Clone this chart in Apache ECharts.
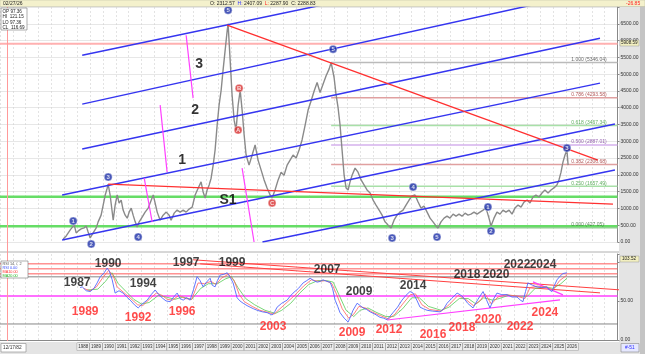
<!DOCTYPE html>
<html>
<head>
<meta charset="utf-8">
<script src="https://cdn.jsdelivr.net/npm/echarts@6/dist/echarts.min.js"></script>
<style>
html, body { margin: 0; padding: 0; background: #fff; }
#chart { width: 645px; height: 354px; }
</style>
</head>
<body>
<div id="chart"></div>
<script>
// price (decimal years)
var priceYears = [1986.91,1987.15,1987.46,1987.77,1987.92,1988.08,1988.31,1988.54,1988.70,1988.85,1989.01,1989.24,1989.48,1989.63,1989.86,
  1990.02,1990.18,1990.33,1990.41,1990.56,1990.72,1990.80,1990.95,1991.11,1991.26,1991.42,1991.57,1991.73,1991.89,1992.04,1992.20,1992.35,1992.51,1992.66,1992.82,
  1993.05,1993.28,1993.52,1993.67,1993.91,1994.06,1994.22,1994.45,1994.68,1994.92,1995.15,1995.30,1995.54,1995.77,1996.00,1996.24,1996.47,1996.70,1996.94,
  1997.17,1997.40,1997.63,1997.79,1997.95,1998.10,1998.26,1998.41,1998.57,1998.72,1998.88,1999.03,1999.19,1999.34,1999.50,1999.66,1999.73,1999.89,
  2000.04,2000.20,2000.35,2000.51,2000.67,2000.82,2000.98,2001.13,2001.36,2001.60,2001.83,2002.06,2002.30,2002.53,2002.76,2003.00,2003.15,2003.38,2003.62,2003.85,
  2004.08,2004.32,2004.55,2004.78,2005.02,2005.25,2005.48,2005.72,2005.95,2006.18,2006.42,2006.65,2006.88,2007.11,2007.35,2007.58,2007.74,2007.97,
  2008.12,2008.28,2008.43,2008.59,2008.75,2008.90,2009.06,2009.21,2009.37,2009.60,2009.83,2010.07,2010.30,2010.53,2010.77,2011.00,2011.23,2011.47,2011.70,2011.93,
  2012.16,2012.40,2012.63,2012.86,2013.10,2013.33,2013.56,2013.80,2014.03,2014.26,2014.50,2014.73,2014.96,2015.20,2015.43,2015.66,2015.89,
  2016.05,2016.28,2016.52,2016.75,2016.98,2017.22,2017.45,2017.68,2017.91,2018.15,2018.38,2018.61,2018.85,2019.08,2019.31,2019.55,2019.78,
  2020.01,2020.17,2020.40,2020.63,2020.87,2021.10,2021.33,2021.57,2021.80,2022.03,2022.27,2022.50,2022.73,2022.97,2023.20,2023.43,2023.66,2023.90,
  2024.13,2024.36,2024.60,2024.83,2025.06,2025.29,2025.45,2025.61,2025.76,2025.92,2026.07,2026.16];
var priceValues = [90,180,360,510,270,330,390,420,480,300,120,270,420,600,800,
  1100,1400,1600,1720,1400,900,650,1100,1400,1160,1250,950,800,710,890,1010,800,600,450,600,
  740,890,1010,1160,1400,1160,890,650,800,890,800,650,860,950,890,950,890,980,1040,
  1400,1600,1790,1490,1310,1550,1700,1900,2290,2740,3480,4080,4520,5120,5710,6300,6500,5420,
  4380,3630,3330,4080,4520,3930,3180,2590,2290,2590,2890,2440,2140,1850,1610,1400,1310,1550,1850,2080,
  1990,2290,2440,2590,2500,2740,3040,3480,3930,4200,4500,4750,4450,4700,4950,5150,5346,4900,
  4400,4000,3500,2740,1990,1610,1550,1790,1990,2200,2080,1850,1700,1550,1460,1250,1100,950,800,600,
  510,420,650,800,890,950,1100,1250,1370,1400,1190,1010,1070,890,710,600,480,
  420,600,710,770,710,830,770,830,770,860,800,830,890,830,890,950,1010,
  710,480,710,890,830,950,890,950,830,1010,1100,1040,1190,1250,1160,1340,1400,1340,
  1460,1550,1460,1550,1610,1700,1850,2080,2380,2590,2740,2290];

// RSI 14 and its averages
var rsiYears = [1988.23,1988.39,1988.70,1989.01,1989.30,1989.55,1989.79,1990.10,1990.33,1990.50,1990.72,1990.95,1991.25,1991.57,1991.85,
  1992.12,1992.45,1992.74,1993.05,1993.44,1993.75,1994.06,1994.35,1994.60,1994.90,1995.23,1995.50,1995.77,1996.00,1996.24,1996.50,1996.78,
  1997.05,1997.32,1997.55,1997.79,1998.05,1998.33,1998.50,1998.72,1998.90,1999.11,1999.40,1999.66,1999.90,2000.12,2000.43,2000.65,2000.90,
  2001.20,2001.44,2001.70,2001.99,2002.40,2002.76,2003.15,2003.35,2003.54,2003.90,2004.32,2004.55,2004.78,2005.20,2005.56,2005.85,
  2006.10,2006.40,2006.65,2006.90,2007.11,2007.40,2007.66,2007.85,2008.05,2008.25,2008.43,2008.75,2009.06,2009.25,2009.44,2009.76,
  2010.00,2010.22,2010.50,2010.77,2011.15,2011.54,2011.80,2012.09,2012.30,2012.55,2012.90,2013.25,2013.55,2013.87,2014.11,2014.40,2014.65,2014.90,
  2015.20,2015.60,2016.21,2016.50,2016.75,2017.10,2017.53,2017.75,2017.99,2018.35,2018.77,2019.15,2019.55,2019.80,2020.09,2020.35,2020.63,
  2021.00,2021.41,2021.80,2022.19,2022.45,2022.65,2022.85,2023.04,2023.40,2023.74,2024.10,2024.52,2024.70,2024.91,2025.10,2025.30,2025.55,2025.76,2026.07];
var rsiValues = [67,68,63,62,66,73,81,86,92,88,77,60,63,60,55,
  51,45,41,46,51,58,64,58,54,50,49,55,60,53,51,54,51,
  65,81,76,68,74,79,70,68,76,83,84,86,80,73,54,50,47,
  44,42,40,38,36,35,32,36,42,47,51,56,60,66,73,76,
  79,76,74,75,77,75,74,66,51,43,35,28,23,30,38,47,
  44,41,39,36,33,29,28,26,30,35,42,51,57,62,60,51,42,40,
  38,37,36,40,47,53,60,58,55,47,41,52,62,52,41,52,60,
  58,58,55,55,51,49,62,73,70,68,67,68,64,62,70,77,82,85,86];
var ma10Years = [1988.50,1989.00,1989.50,1990.00,1990.45,1990.80,1991.10,1991.60,1992.10,1992.70,1993.10,1993.60,1994.15,1994.60,1995.00,1995.40,1995.90,
  1996.40,1996.90,1997.40,1997.90,1998.40,1998.80,1999.20,1999.75,2000.20,2000.60,2001.00,2001.60,2002.20,2002.90,2003.30,2003.70,2004.30,2004.90,
  2005.60,2006.20,2006.80,2007.30,2007.80,2008.20,2008.60,2009.10,2009.50,2009.90,2010.40,2010.90,2011.60,2012.20,2012.70,2013.30,2013.90,2014.30,
  2014.80,2015.40,2016.30,2016.90,2017.60,2018.20,2018.80,2019.30,2019.70,2020.20,2020.70,2021.40,2022.20,2022.80,2023.20,2023.80,2024.50,2025.00,2025.50,2026.07];
var ma10Values = [66,63,68,80,89,82,68,61,54,45,44,52,60,57,52,51,57,
  53,52,73,72,75,71,79,84,76,58,49,43,38,35,33,39,48,57,
  69,77,75,76,72,57,40,28,33,43,41,36,31,27,33,46,58,59,
  45,39,37,45,57,52,44,50,59,46,55,58,56,53,67,69,67,64,76,83];
var ma20Years = [1988.80,1989.60,1990.20,1990.70,1991.20,1991.80,1992.40,1993.00,1993.60,1994.30,1994.90,1995.60,1996.20,1996.90,1997.60,1998.20,
  1998.90,1999.50,2000.00,2000.50,2001.10,2001.80,2002.60,2003.40,2003.90,2004.60,2005.30,2006.00,2006.70,2007.40,2007.90,2008.40,2008.90,
  2009.50,2010.00,2010.60,2011.30,2012.00,2012.60,2013.30,2014.00,2014.60,2015.30,2016.30,2016.90,2017.70,2018.40,2019.00,2019.60,2020.30,
  2020.80,2021.50,2022.40,2023.00,2023.60,2024.40,2025.00,2025.60,2026.07];
var ma20Values = [64,65,75,86,72,62,52,46,48,57,55,52,55,52,66,72,
  72,78,81,67,53,45,38,34,38,47,60,71,76,76,74,56,38,
  30,38,41,35,30,30,40,54,54,43,38,42,53,53,46,54,51,
  53,57,56,56,66,68,66,72,79];

var yearTicks = [];
for (var yr = 1988; yr <= 2026; yr++) yearTicks.push(yr);

// fibonacci levels
var fibRatios = ['1.000', '0.786', '0.618', '0.500', '0.382', '0.250', '0.000'];
var fibValues = [5346.04, 4293.58, 3467.34, 2887.01, 2306.68, 1657.49, 427.05];

// drawn trend lines, [year, price]
var blueChannels = [
  [[1988.39, 5565], [2008.82, 7202]],
  [[1988.39, 4107], [2025.06, 7202]],
  [[1988.39, 2768], [2028.64, 6071]],
  [[1986.83, 1399], [2028.64, 4732]],
  [[1986.83, 60], [2029.80, 3512]],
  [[2002.40, 0], [2029.80, 2143]]
];
var redLines = [
  [[1999.66, 6458], [2028.48, 2440]],
  [[1990.41, 1726], [2029.65, 1131]]
];
var magentaLines = [
  [[1996.47, 6160], [1997.01, 4285]],
  [[1994.45, 4077], [1994.99, 2083]],
  [[1993.21, 1905], [1993.83, 595]],
  [[2000.82, 2202], [2001.75, 0]]
];
var greenLevels = [1350, 470];
var lastMarker = 5908.59;

// RSI pane lines, [year, value]
var rsiRedLevels = [97.4, 91, 84.6];
var rsiGrayLevels = [80.8, 20.5];
var rsiMagentaLevel = 56.4;
var rsiRedDiagonals = [
  [[1997.01, 102.6], [2030.19, 64.1]],
  [[1997.56, 97.4], [2028.64, 60.3]]
];
var rsiMagentaLines = [
  [[2012.09, 25.6], [2025.53, 51.3]],
  [[2023.43, 74.4], [2025.76, 57.7]]
];

// wave counts [year, price, label]
var waveBlue = [[1987.69,625,'1'],[1989.09,-60,'2'],[1990.41,1934,'3'],[1992.74,149,'4'],[1999.73,6904,'5'],
  [2007.89,5744,'5'],[2012.48,119,'3'],[2014.11,1637,'4'],[2015.97,149,'5'],[2019.93,1042,'1'],[2020.17,327,'2'],[2026.07,2797,'3']];
var waveRed = [[2000.51,3333,'A'],[2000.59,4583,'B'],[2003.15,1161,'C']];
var bigLabels = [[1997.48,5297,'3'],[1997.17,3928,'2'],[1996.16,2440,'1'],[1999.73,1250,'S1']];

// year notes in the RSI pane
var peakNotes = [[1988.0,73,'1987'],[1990.41,97.4,'1990'],[1993.13,71.8,'1994'],[1996.47,98.7,'1997'],[2000.04,98.7,'1999'],
  [2007.43,89.7,'2007'],[2009.91,61.5,'2009'],[2014.11,69.2,'2014'],[2018.30,83.3,'2018'],[2020.56,83.3,'2020'],[2022.19,96.2,'2022'],[2024.21,96.2,'2024']];
var troughNotes = [[1988.62,35.9,'1989'],[1992.74,28.2,'1992'],[1996.16,35.9,'1996'],[2003.23,16.7,'2003'],[2009.37,9.0,'2009'],
  [2012.24,12.8,'2012'],[2015.66,6.4,'2016'],[2017.91,15.4,'2018'],[2019.93,25.6,'2020'],[2022.42,16.7,'2022'],[2024.36,34.6,'2024']];

var FONT = 'Liberation Sans, Arial, sans-serif';
var myChart = echarts.init(document.getElementById('chart'));

function zip(xs, ys) {
  return xs.map(function (x, i) { return [x, ys[i]]; });
}
function seg(pts, color, width, idx, z) {
  return {
    type: 'line', xAxisIndex: idx, yAxisIndex: idx, data: pts, symbol: 'none',
    lineStyle: { color: color, width: width }, silent: true, z: z || 2
  };
}
function hline(v, color, width, idx, x0) {
  return seg([[x0 || 1982, v], [2030, v]], color, width, idx, 1);
}
function textPoints(list, idx, size, color, extra) {
  return Object.assign({
    type: 'scatter', xAxisIndex: idx, yAxisIndex: idx, symbolSize: 0, clip: false, silent: true, z: 6,
    data: list.map(function (d) { return { value: [d[0], d[1]], name: d[2] }; }),
    label: { show: true, position: 'inside', formatter: '{b}', fontSize: size, fontWeight: 'bold', color: color, fontFamily: FONT }
  }, extra || {});
}
function circles(list, fill) {
  return {
    type: 'scatter', xAxisIndex: 0, yAxisIndex: 0, symbol: 'circle', symbolSize: 8, clip: false, silent: true, z: 7,
    itemStyle: { color: fill, borderColor: '#ffffff', borderWidth: 0.5 },
    data: list.map(function (d) { return { value: [d[0], d[1]], name: d[2] }; }),
    label: { show: true, position: 'inside', formatter: '{b}', fontSize: 6, fontWeight: 'bold', color: '#fff', fontFamily: FONT }
  };
}

var series = [];

// top pane
greenLevels.forEach(function (v) { series.push(hline(v, '#66dd66', 2.5, 0)); });
series.push(hline(lastMarker, '#ffb0b0', 2, 0));
var fibColors = ['#bbbbbb', '#e0a0a0', '#a8e0a8', '#d4b0ec', '#e0a0a0', '#a8e0a8', '#90d090'];
var fibTextColors = ['#444444', '#a03030', '#3a9a3a', '#8040a0', '#a03030', '#3a9a3a', '#3a6a3a'];
fibValues.forEach(function (v, i) { series.push(hline(v, fibColors[i], 1.5, 0, 2007.74)); });
series.push({
  type: 'scatter', xAxisIndex: 0, yAxisIndex: 0, symbolSize: 0, clip: false, silent: true, z: 6,
  data: fibValues.map(function (v, i) {
    return { value: [2026.1, v], name: fibRatios[i] + ' (' + v.toFixed(2) + ')',
      label: { color: fibTextColors[i] } };
  }),
  label: { show: true, position: 'right', distance: 4, offset: [0, -3], formatter: '{b}', fontSize: 5, fontFamily: FONT }
});
series.push({
  type: 'line', xAxisIndex: 0, yAxisIndex: 0, data: zip(priceYears, priceValues), symbol: 'none',
  lineStyle: { color: '#8a8a8a', width: 1.4 }, z: 3, silent: true
});
blueChannels.forEach(function (p) { series.push(seg(p, '#3535f0', 1.5, 0, 4)); });
redLines.forEach(function (p) { series.push(seg(p, '#ff3030', 1.3, 0, 4)); });
magentaLines.forEach(function (p) { series.push(seg(p, '#ff40ff', 1.2, 0, 4)); });
series.push(circles(waveBlue, '#1c2ea8'));
series.push(circles(waveRed, '#d83030'));
series.push(textPoints(bigLabels, 0, 14, '#000'));

// RSI pane
rsiRedLevels.forEach(function (v) { series.push(hline(v, '#ff5a5a', 1, 1)); });
rsiGrayLevels.forEach(function (v) { series.push(hline(v, '#666666', 0.8, 1)); });
series.push(hline(rsiMagentaLevel, '#ff40ff', 1.5, 1));
rsiRedDiagonals.forEach(function (p) { series.push(seg(p, '#ff4040', 1, 1, 2)); });
rsiMagentaLines.forEach(function (p) { series.push(seg(p, '#ff40ff', 1.2, 1, 2)); });
series.push({ type: 'line', xAxisIndex: 1, yAxisIndex: 1, data: zip(ma20Years, ma20Values), symbol: 'none', lineStyle: { color: '#55cc55', width: 0.8 }, z: 3, silent: true });
series.push({ type: 'line', xAxisIndex: 1, yAxisIndex: 1, data: zip(ma10Years, ma10Values), symbol: 'none', lineStyle: { color: '#ff6060', width: 0.8 }, z: 3, silent: true });
series.push({ type: 'line', xAxisIndex: 1, yAxisIndex: 1, data: zip(rsiYears, rsiValues), symbol: 'none', lineStyle: { color: '#5066ff', width: 0.9 }, z: 4, silent: true });
series.push(textPoints(peakNotes, 1, 12, '#111'));
series.push(textPoints(troughNotes, 1, 12, '#ff1e1e'));

var gridLine = { show: true, lineStyle: { color: '#d0d0d0', type: [2, 2], width: 0.6 } };

option = {
  backgroundColor: '#e4e4e4',
  animation: false,
  grid: [
    { left: 0, right: 27.5, top: 7, height: 235, outerBoundsMode: 'none', containLabel: false },
    { left: 0, right: 27.5, top: 254, height: 86, outerBoundsMode: 'none', containLabel: false }
  ],
  xAxis: [
    { type: 'value', gridIndex: 0, min: 1982, max: 2030, interval: 1,
      axisLine: { show: false }, axisTick: { show: false }, axisLabel: { show: false }, splitLine: gridLine },
    { type: 'value', gridIndex: 1, min: 1982, max: 2030, interval: 1,
      axisLine: { show: true, lineStyle: { color: '#888' } }, axisTick: { show: false },
      axisLabel: { customValues: yearTicks, showMinLabel: true, showMaxLabel: true, hideOverlap: false,
        align: 'left', margin: 3, fontSize: 4.5, color: '#333', fontFamily: FONT,
        formatter: function (v) { return String(Math.round(v)); },
        width: 10, overflow: 'none', padding: [1.5, 1, 1, 1], backgroundColor: '#eeeeee', borderColor: '#999', borderWidth: 0.5 },
      splitLine: gridLine }
  ],
  yAxis: [
    { type: 'value', gridIndex: 0, position: 'right', min: 0, max: 7000, interval: 500,
      axisLine: { show: true, lineStyle: { color: '#888' } }, axisTick: { show: true, length: 2, lineStyle: { color: '#888' } },
      axisLabel: { margin: 3, fontSize: 5, color: '#333', fontFamily: FONT,
        formatter: function (v) { return v <= 6500 ? v.toFixed(2) : ''; } },
      splitLine: { show: true, lineStyle: { color: '#dcdcdc', width: 0.7 } } },
    { type: 'value', gridIndex: 1, position: 'right', min: 0, max: 110, interval: 50,
      axisLine: { show: true, lineStyle: { color: '#888' } }, axisTick: { show: true, length: 2, lineStyle: { color: '#888' } },
      axisLabel: { margin: 3, fontSize: 5, color: '#333', fontFamily: FONT,
        formatter: function (v) { return v <= 50 ? v.toFixed(2) : ''; } },
      splitLine: { show: false } }
  ],
  graphic: [
    { type: 'rect', shape: { x: 0, y: 6, width: 619, height: 336 }, style: { fill: '#ffffff' }, z: -10, silent: true },
    { type: 'rect', shape: { x: 640, y: 6, width: 5, height: 348 }, style: { fill: '#c4c4c4' }, z: -9, silent: true },
    { type: 'line', shape: { x1: 0, y1: 252, x2: 619, y2: 252 }, style: { stroke: '#b0b0b0', lineWidth: 1 }, z: -8, silent: true },
    { type: 'line', shape: { x1: 7.5, y1: 7, x2: 7.5, y2: 341 }, style: { stroke: '#ff9a9a', lineWidth: 1 }, z: 50, silent: true },
    { type: 'rect', shape: { x: 0, y: 0, width: 645, height: 6.5 }, style: { fill: '#f4f1cc', stroke: '#b8b8a0', lineWidth: 0.5 }, z: 50 },
    { type: 'text', x: 3, y: 3.4, style: { text: '02/27/26', fontSize: 5, fill: '#222', font: '5px ' + FONT, verticalAlign: 'middle' }, z: 51 },
    { type: 'text', x: 210, y: 3.4, style: { text: '{k|O:} 2312.57  {h|H:} 2407.09  {l|L:} 2287.90  {k|C:} 2288.83', fontSize: 5, fill: '#222', fontFamily: FONT, verticalAlign: 'middle',
      rich: { k: { fill: '#222', fontSize: 5 }, h: { fill: '#2a2aff', fontSize: 5 }, l: { fill: '#ff2020', fontSize: 5 } } }, z: 51 },
    { type: 'text', x: 626, y: 3.4, style: { text: '-26.85', fontSize: 5, fill: '#ff2020', fontFamily: FONT, verticalAlign: 'middle' }, z: 51 },
    { type: 'rect', shape: { x: 1, y: 8, width: 26, height: 22 }, style: { fill: '#ffffff', stroke: '#777', lineWidth: 0.6 }, z: 50 },
    { type: 'text', x: 2.5, y: 9, style: { text: 'OP 97.36\nHI  121.15\nLO 97.36\nCL  116.69', fontSize: 4.6, lineHeight: 5.3, fill: '#222', fontFamily: FONT }, z: 51 },
    { type: 'rect', shape: { x: 1, y: 261, width: 27, height: 17 }, style: { fill: '#ffffff', stroke: '#777', lineWidth: 0.6 }, z: 50 },
    { type: 'text', x: 2.5, y: 261.5, style: { text: '{g|RSI 14, /, 2}\n{b|RSI 0.00}\n{r|MA10.00}\n{n|MA20.00}', fontSize: 3.8, lineHeight: 4, fontFamily: FONT,
      rich: { g: { fill: '#555', fontSize: 3.8 }, b: { fill: '#3a50ff', fontSize: 3.8 }, r: { fill: '#ff3030', fontSize: 3.8 }, n: { fill: '#20b020', fontSize: 3.8 } } }, z: 51 },
    { type: 'rect', shape: { x: 620, y: 40, width: 19, height: 6 }, style: { fill: '#f2efc0', stroke: '#999', lineWidth: 0.5 }, z: 50 },
    { type: 'text', x: 621, y: 43.2, style: { text: '5908.59', fontSize: 4.6, fill: '#222', fontFamily: FONT, verticalAlign: 'middle' }, z: 51 },
    { type: 'rect', shape: { x: 620, y: 256, width: 19, height: 6 }, style: { fill: '#f2efc0', stroke: '#999', lineWidth: 0.5 }, z: 50 },
    { type: 'text', x: 622, y: 259.2, style: { text: '103.52', fontSize: 4.6, fill: '#222', fontFamily: FONT, verticalAlign: 'middle' }, z: 51 },
    { type: 'rect', shape: { x: 1, y: 343.5, width: 25, height: 8.5 }, style: { fill: '#ffffff', stroke: '#888', lineWidth: 0.6 }, z: 50 },
    { type: 'text', x: 3, y: 347.8, style: { text: '12/17/82', fontSize: 4.8, fill: '#333', fontFamily: FONT, verticalAlign: 'middle' }, z: 51 },
    { type: 'rect', shape: { x: 621, y: 343.5, width: 18, height: 8.5 }, style: { fill: '#e6e8ff', stroke: '#888', lineWidth: 0.6 }, z: 50 },
    { type: 'text', x: 625, y: 347.8, style: { text: '#-51', fontSize: 4.8, fill: '#2a2aff', fontFamily: FONT, verticalAlign: 'middle' }, z: 51 }
  ],
  series: series
};

myChart.setOption(option);
</script>
</body>
</html>
